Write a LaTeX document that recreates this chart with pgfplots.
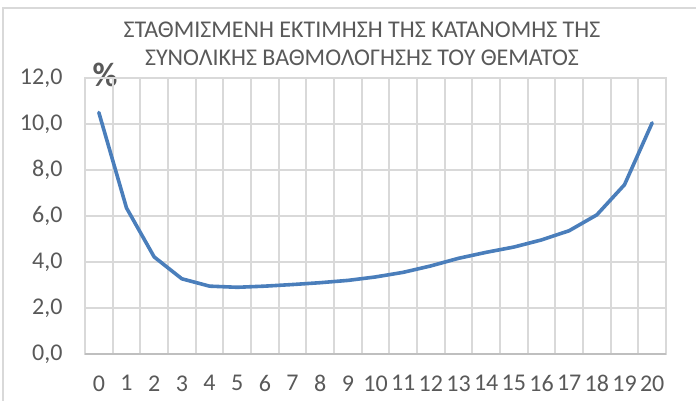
\documentclass[border=0pt]{standalone}
\usepackage{fontspec}
\setmainfont{Carlito}
\usepackage{pgfplots}
\pgfplotsset{compat=1.18}
\definecolor{txtgray}{HTML}{595959}
\definecolor{gridgray}{HTML}{D9D9D9}
\definecolor{axgray}{HTML}{BFBFBF}
\definecolor{lineblue}{HTML}{4A7EBB}
\begin{document}
\begin{tikzpicture}[x=1pt,y=1pt]
\useasboundingbox (0,0) rectangle (696,401);
\draw[gridgray,line width=1.5pt] (3,-2) -- (3,393) -- (700,393);
\node[txtgray,font=\fontsize{24}{28}\selectfont,align=center] at (362,357) {ΣΤΑΘΜΙΣΜΕΝΗ ΕΚΤΙΜΗΣΗ ΤΗΣ ΚΑΤΑΝΟΜΗΣ ΤΗΣ\\ΣΥΝΟΛΙΚΗΣ ΒΑΘΜΟΛΟΓΗΣΗΣ ΤΟΥ ΘΕΜΑΤΟΣ};
\node[txtgray,font=\fontsize{34}{36}\bfseries\selectfont] at (105,326) {\%};
\begin{axis}[
  at={(85pt,47pt)}, anchor=south west,
  scale only axis, width=581pt, height=276pt,
  xmin=-0.5, xmax=20.5, ymin=0, ymax=12,
  xtick={0,...,20},
  minor xtick={-0.5,0.5,...,20.5},
  ytick={0,2,...,12},
  major x tick style={draw=none},
  minor x tick style={draw=none},
  y tick style={draw=none},
  xmajorgrids=false, xminorgrids=true, ymajorgrids=true,
  grid style={gridgray,line width=2pt},
  minor grid style={gridgray,line width=2pt},
  axis line style={gridgray,line width=2pt},
  tick label style={txtgray,font=\fontsize{24}{26}\selectfont},
  /pgf/number format/assume math mode=true,
  yticklabel style={/pgf/number format/fixed,/pgf/number format/fixed zerofill,/pgf/number format/precision=1,/pgf/number format/use comma},
  xticklabel style={yshift=-18pt},
  yticklabel style={xshift=-19pt},
  clip=false,
]
\addplot[lineblue,line width=3.6pt,line join=round,line cap=round] coordinates {
(0,10.5) (1,6.35) (2,4.22) (3,3.27) (4,2.95) (5,2.9) (6,2.95) (7,3.02) (8,3.1) (9,3.2)
(10,3.35) (11,3.55) (12,3.83) (13,4.16) (14,4.42) (15,4.65) (16,4.96) (17,5.36) (18,6.05) (19,7.36) (20,10.05)
};
\draw[axgray,line width=2.4pt] (axis cs:-0.5,0) -- (axis cs:20.5,0);
\end{axis}
\end{tikzpicture}
\end{document}
